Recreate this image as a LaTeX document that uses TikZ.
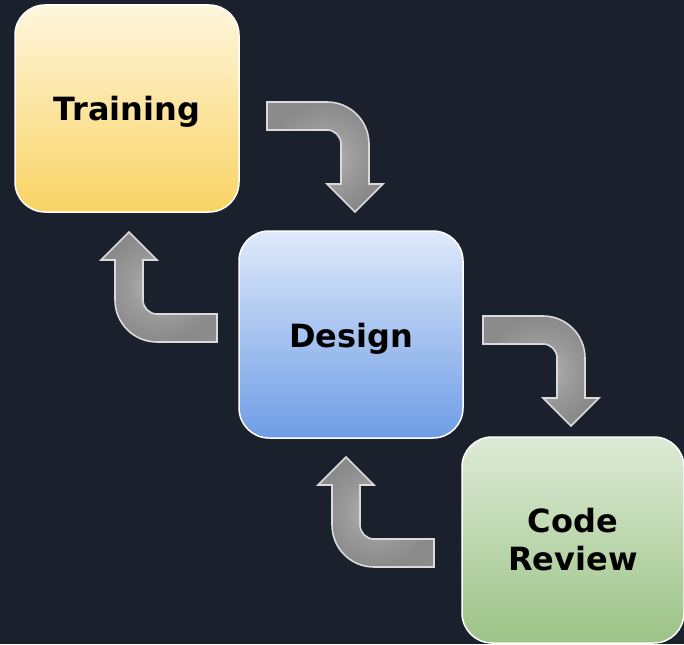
\documentclass[tikz,border=0pt]{standalone}
\usepackage{fontspec}
\newfontfamily\boxfont{DejaVu Sans}[BoldFont={DejaVu Sans Bold}]
\definecolor{bgc}{HTML}{1B202D}
\definecolor{trtop}{HTML}{FFF6DD}
\definecolor{trbot}{HTML}{F9D363}
\definecolor{detop}{HTML}{DFE9FB}
\definecolor{debot}{HTML}{6E9DE6}
\definecolor{crtop}{HTML}{DDEAD6}
\definecolor{crbot}{HTML}{9CC386}
\definecolor{arredge}{HTML}{DADADA}
\pgfdeclareradialshading{arrowshade}{\pgfpoint{0bp}{0bp}}{%
  color(0bp)=(gray!55!white); color(14bp)=(gray!80!white); color(25bp)=(gray!100!black!92); color(50bp)=(gray!100!black!85)}
\tikzset{
  stagebox/.style={draw=white, line width=1.5pt, rounded corners=30pt,
    minimum width=224pt, minimum height=207pt, inner sep=0pt, align=center,
    font=\boxfont\bfseries\fontsize{32}{38}\selectfont, text=black},
  onecap/.style={text height=25pt, text depth=0pt},
  bendarrow/.style={draw=arredge, line width=1.6pt, line join=miter,
    shading=arrowshade},
  bendA/.pic={
    \shade[bendarrow] (-60,-42) -- (0,-42) .. controls (23.2,-42) and (42,-23.2) .. (42,0)
      -- (42,40) -- (56,40) -- (28,68) -- (0,40) -- (14,40) -- (14,0)
      .. controls (14,-7.7) and (7.7,-14) .. (0,-14) -- (-60,-14) -- cycle;
  },
  bendB/.pic={
    \shade[bendarrow] (60,42) -- (0,42) .. controls (-23.2,42) and (-42,23.2) .. (-42,0)
      -- (-42,-40) -- (-56,-40) -- (-28,-68) -- (0,-40) -- (-14,-40) -- (-14,0)
      .. controls (-14,7.7) and (-7.7,14) .. (0,14) -- (60,14) -- cycle;
  }
}
\begin{document}
\begin{tikzpicture}[x=1pt,y=-1pt]
\useasboundingbox (0,0) rectangle (684,644);
\fill[bgc] (0,0) rectangle (684,644);
\node[stagebox, onecap, top color=trtop, bottom color=trbot] (training) at (127,108.5) {Training};
\node[stagebox, onecap, top color=detop, bottom color=debot] (design) at (351,334.5) {Design};
\node[stagebox, top color=crtop, bottom color=crbot, minimum width=222pt, minimum height=206pt] (review) at (573,540) {Code\\Review};
\pic at (327,144) {bendA};
\pic at (157,300) {bendB};
\pic at (543,358) {bendA};
\pic at (374,525) {bendB};
\end{tikzpicture}
\end{document}
